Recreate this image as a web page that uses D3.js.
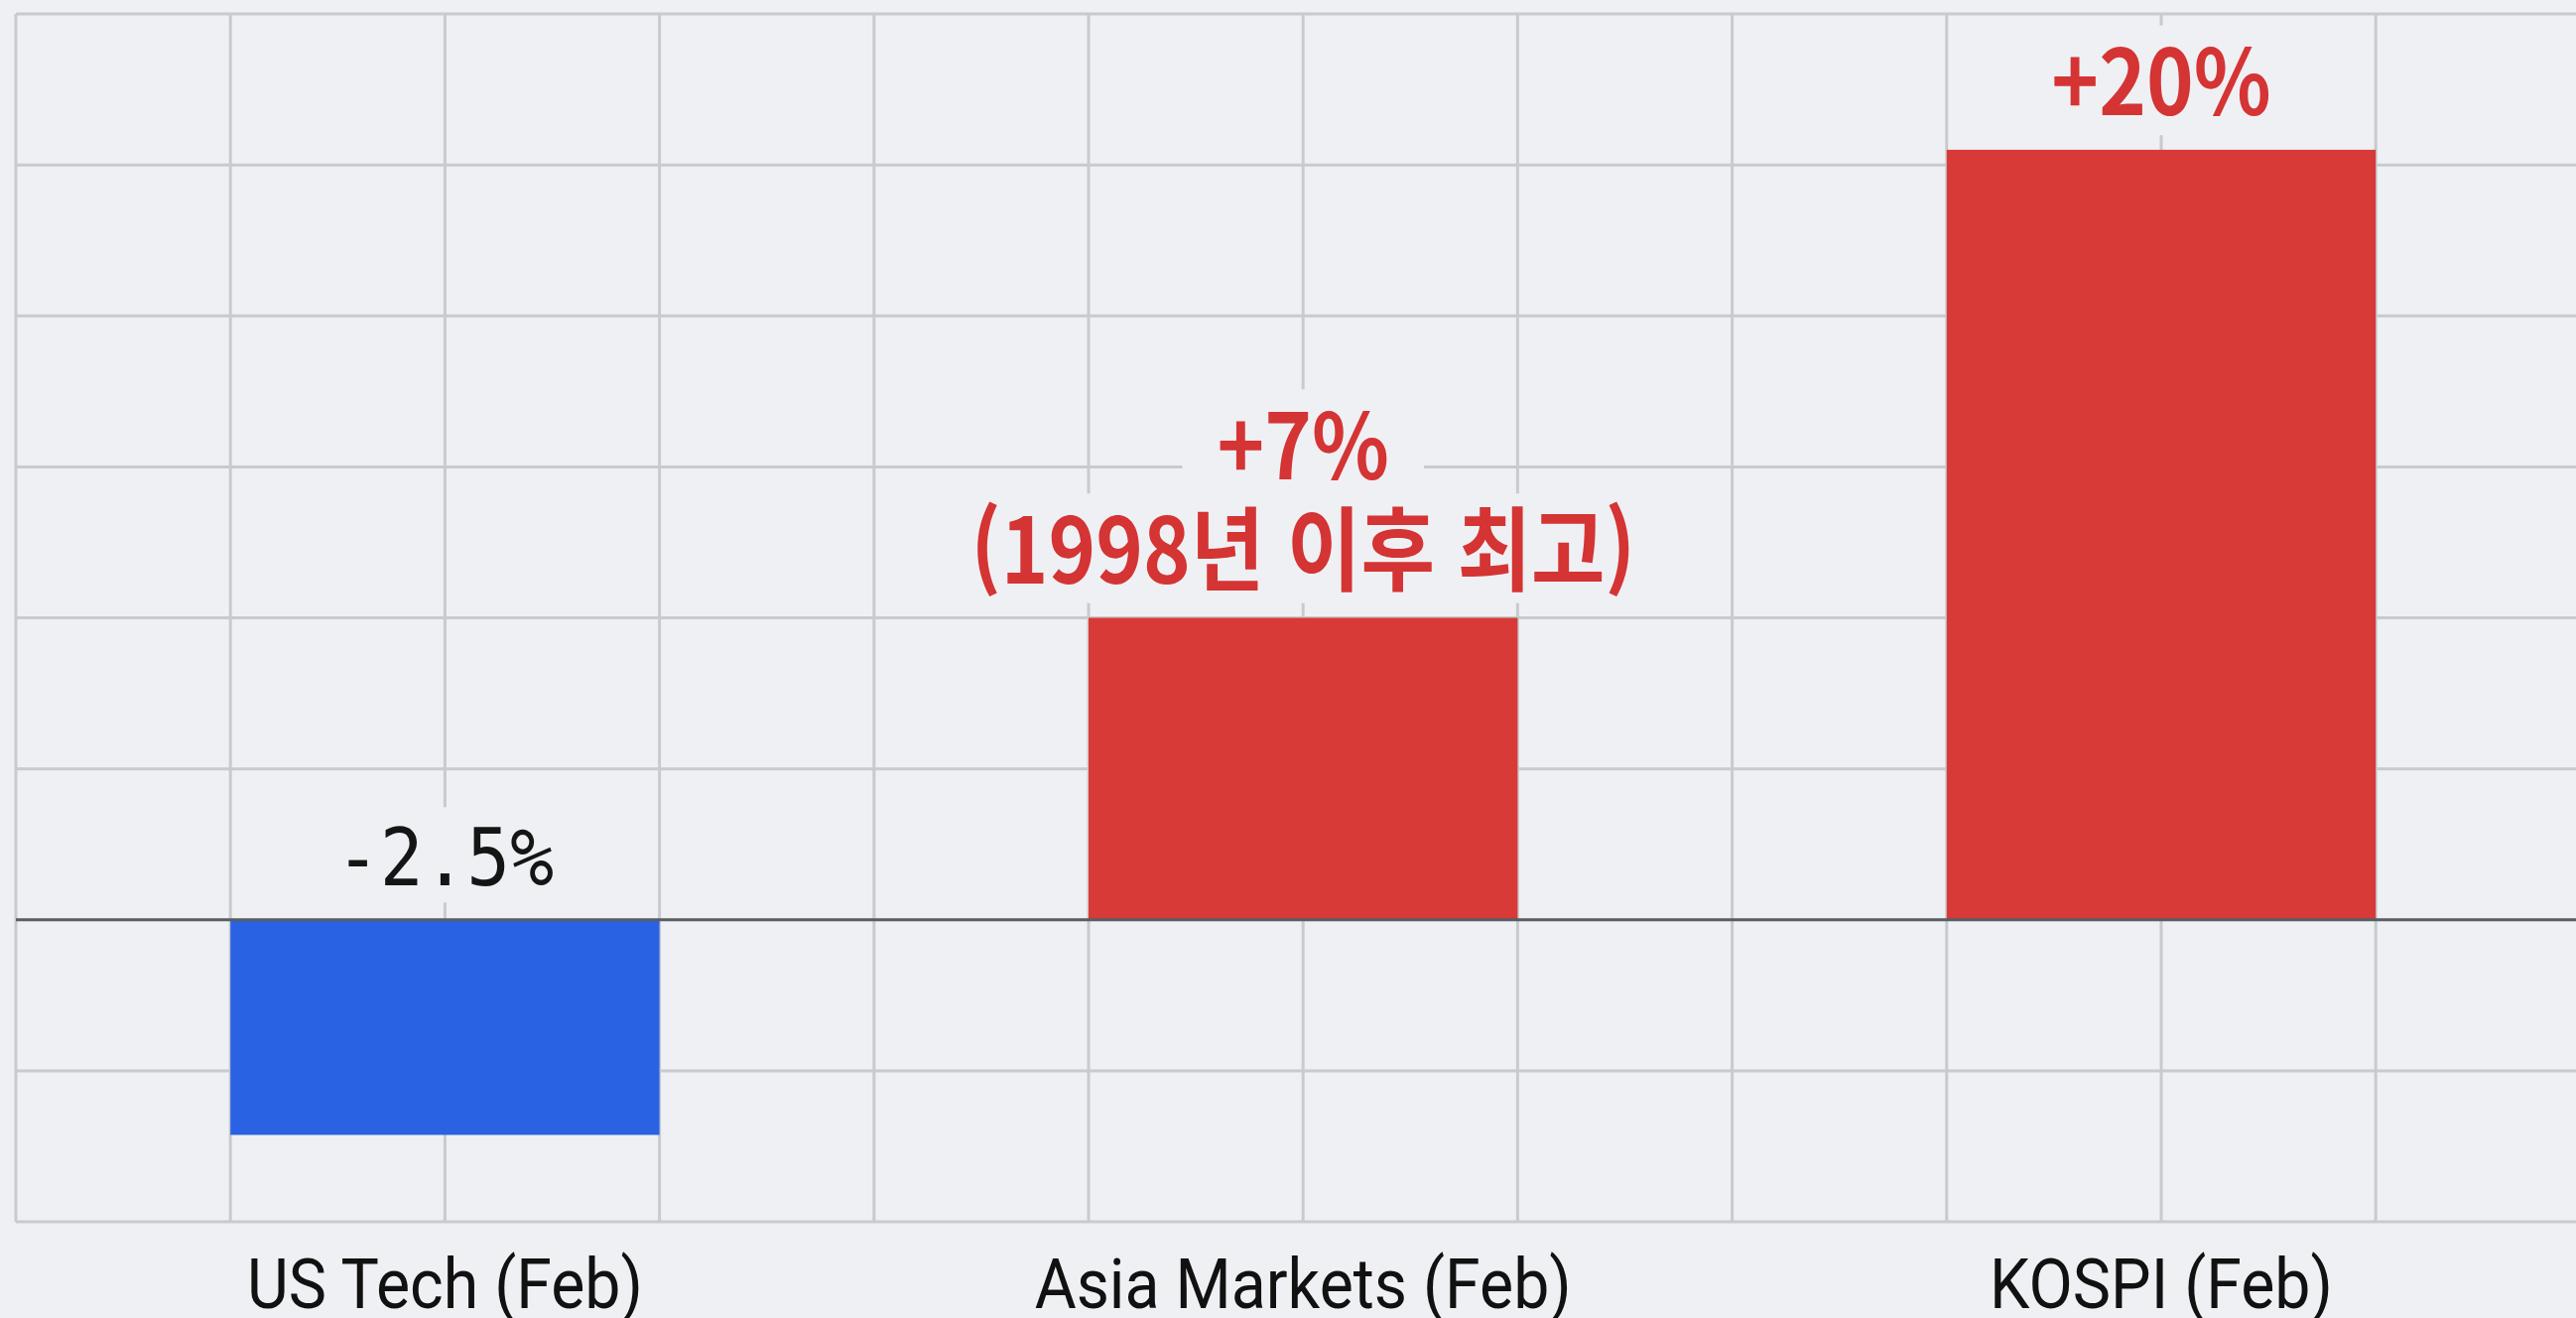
<!DOCTYPE html>
<html lang="ko">
<head>
    <meta charset="UTF-8">
    <title>Feb market moves</title>
    <script src="https://d3js.org/d3.v7.min.js"></script>
    <style>
        html, body { margin: 0; padding: 0; background: #eff0f4; overflow: hidden; }
        svg { display: block; }
    </style>
</head>
<body>
    <svg id="chart"></svg>
    <script>
        // Chart data (bar heights, labels as printed)
        const categories = ["US Tech (Feb)", "Asia Markets (Feb)", "KOSPI (Feb)"];
        const values = [-5.7, 8, 20.4];
        const valueLabels = [["-2.5%"], ["+7%", "(1998년 이후 최고)"], ["+20%"]];
        const yTicks = [-8, -4, 0, 4, 8, 12, 16, 20, 24];
        const gridColumns = d3.range(12);

        const W = 2596, H = 1328;
        const plot = {left: 16, top: 14, bottom: 1231, right: 16 + 12 * 216.2};

        const svg = d3.select("#chart")
            .attr("width", W)
            .attr("height", H);

        svg.append("rect")
            .attr("width", W)
            .attr("height", H)
            .attr("fill", "#eff0f4");

        // Scales
        const x = d3.scaleBand()
            .domain(categories)
            .range([plot.left, plot.right])
            .paddingInner(0.5)
            .paddingOuter(0.25);

        const gridX = d3.scaleLinear()
            .domain([0, 12])
            .range([plot.left, plot.right]);

        const y = d3.scaleLinear()
            .domain([d3.min(yTicks), d3.max(yTicks)])
            .range([plot.bottom, plot.top]);

        // Grid
        const grid = svg.append("g")
            .attr("stroke", "#c8cace")
            .attr("stroke-width", 3);

        grid.selectAll(".hline")
            .data(yTicks.filter(d => d !== 0))
            .enter()
            .append("line")
            .attr("x1", plot.left)
            .attr("x2", W)
            .attr("y1", d => y(d))
            .attr("y2", d => y(d));

        grid.selectAll(".vline")
            .data(gridColumns)
            .enter()
            .append("line")
            .attr("x1", d => gridX(d))
            .attr("x2", d => gridX(d))
            .attr("y1", plot.top)
            .attr("y2", plot.bottom);

        // Bars
        svg.append("g")
            .selectAll("rect")
            .data(categories)
            .enter()
            .append("rect")
            .attr("x", d => x(d))
            .attr("width", x.bandwidth())
            .attr("y", (d, i) => y(Math.max(0, values[i])))
            .attr("height", (d, i) => Math.abs(y(values[i]) - y(0)))
            .attr("fill", (d, i) => values[i] < 0 ? "#2962e3" : "#d73a37");

        // Zero line
        svg.append("line")
            .attr("x1", plot.left)
            .attr("x2", W)
            .attr("y1", y(0))
            .attr("y2", y(0))
            .attr("stroke", "#5a5d63")
            .attr("stroke-width", 3);

        // Value labels, with a background patch that hides the grid behind them
        const labelLayer = svg.append("g");
        categories.forEach(function(cat, i) {
            const cx = x(cat) + x.bandwidth() / 2;
            const positive = values[i] >= 0;
            const baseY = positive ? y(values[i]) - 35 : y(0) - 35;
            const lines = valueLabels[i];
            const size = positive ? 92 : 80;
            const lineGap = 105;

            lines.forEach(function(txt, j) {
                const by = baseY - (lines.length - 1 - j) * lineGap;
                const g = labelLayer.append("g");
                const t = g.append("text")
                    .attr("x", cx)
                    .attr("y", by)
                    .attr("text-anchor", "middle")
                    .attr("font-size", size)
                    .attr("font-family", positive ? "'Noto Sans CJK KR', 'Noto Sans', sans-serif" : "'DejaVu Sans Mono', 'Liberation Mono', monospace")
                    .attr("font-weight", positive ? 700 : 400)
                    .attr("fill", positive ? "#d43433" : "#151515")
                    .text(txt);
                const natural = t.node().getComputedTextLength();
                const len = natural * (positive ? 0.88 : 0.91);
                t.attr("textLength", len).attr("lengthAdjust", "spacingAndGlyphs");
                g.insert("rect", "text")
                    .attr("x", cx - len / 2 - 35)
                    .attr("width", len + 70)
                    .attr("y", by - size * 0.98)
                    .attr("height", size * 1.2)
                    .attr("fill", "#eff0f4");
            });
        });

        // Category labels
        svg.append("g")
            .selectAll("text")
            .data(categories)
            .enter()
            .append("text")
            .attr("x", d => x(d) + x.bandwidth() / 2)
            .attr("y", 1318)
            .attr("text-anchor", "middle")
            .attr("font-size", 70)
            .attr("font-family", "Roboto, 'Noto Sans', sans-serif")
            .attr("fill", "#111")
            .text(d => d)
            .each(function() {
                const len = this.getComputedTextLength() * 0.92;
                d3.select(this).attr("textLength", len).attr("lengthAdjust", "spacingAndGlyphs");
            });
    </script>
</body>
</html>
